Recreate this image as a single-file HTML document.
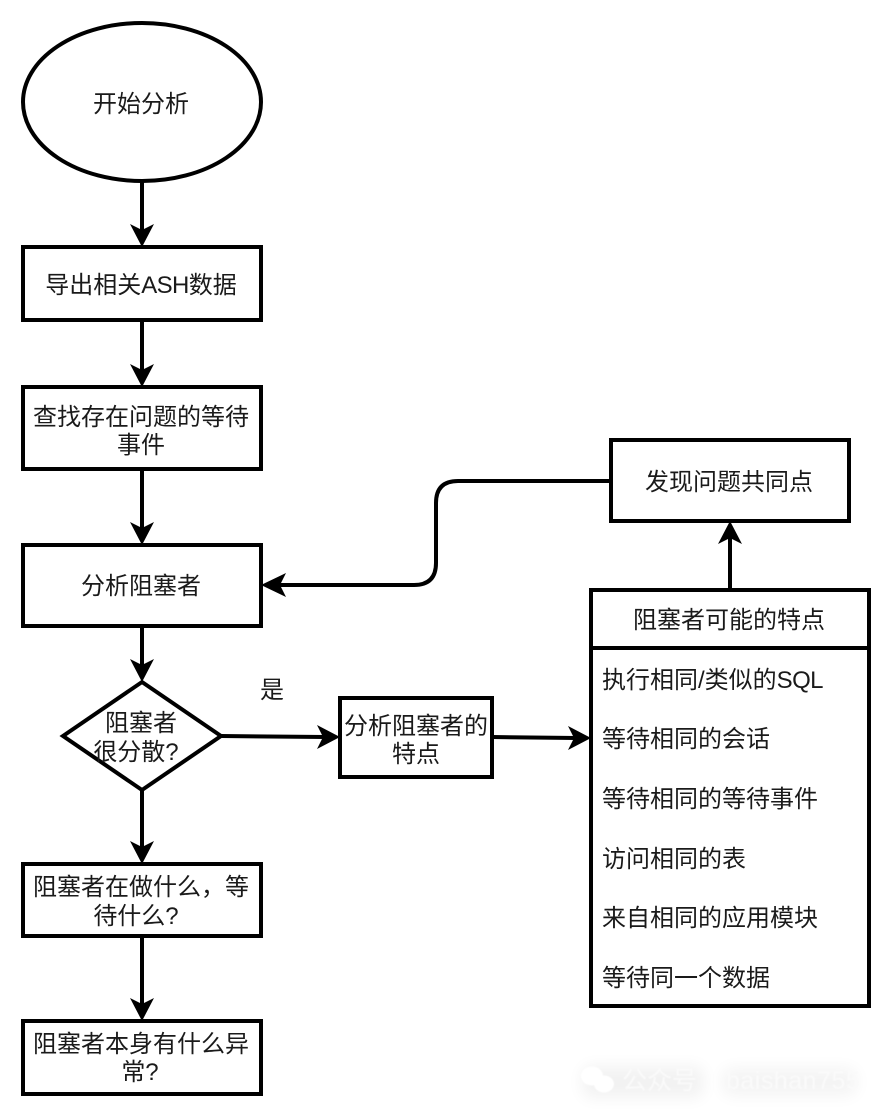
<!DOCTYPE html>
<html>
<head>
<meta charset="utf-8">
<style>
html,body{margin:0;padding:0;background:#fff;width:890px;height:1116px;overflow:hidden}
svg{display:block}
text{font-family:"Liberation Sans","Noto Sans CJK SC",sans-serif;font-size:24px;fill:#1a1a1a;text-anchor:middle}
.l{text-anchor:start}
.s{fill:#fff;stroke:#000;stroke-width:4}
.c{fill:none;stroke:#000;stroke-width:4}
</style>
</head>
<body>
<svg width="890" height="1116" viewBox="0 0 890 1116" xmlns="http://www.w3.org/2000/svg">
<defs>
<filter id="b" x="-30%" y="-60%" width="160%" height="220%"><feGaussianBlur stdDeviation="8"/></filter>
<filter id="b2" x="-10%" y="-10%" width="120%" height="120%"><feGaussianBlur stdDeviation="0.6"/></filter>
</defs>

<!-- shapes -->
<ellipse class="s" cx="142" cy="102" rx="119" ry="79"/>
<rect class="s" x="23" y="247" width="238" height="73"/>
<rect class="s" x="23" y="387" width="238" height="82"/>
<rect class="s" x="23" y="545" width="238" height="81"/>
<polygon class="s" points="142,682 221,736 142,790 63,736"/>
<rect class="s" x="23" y="864" width="238" height="72"/>
<rect class="s" x="23" y="1021" width="238" height="73"/>
<rect class="s" x="340" y="698" width="152" height="79"/>
<rect class="s" x="611" y="440" width="238" height="81"/>
<rect class="s" x="591" y="590" width="278" height="416"/>
<line class="c" x1="591" y1="648" x2="869" y2="648"/>

<!-- connectors -->
<line class="c" x1="142" y1="181" x2="142" y2="232"/>
<polygon points="142,247 130,224 142,230 154,224"/>
<line class="c" x1="142" y1="320" x2="142" y2="372"/>
<polygon points="142,387 130,364 142,370 154,364"/>
<line class="c" x1="142" y1="469" x2="142" y2="530"/>
<polygon points="142,545 130,522 142,528 154,522"/>
<line class="c" x1="142" y1="626" x2="142" y2="667"/>
<polygon points="142,682 130,659 142,665 154,659"/>
<line class="c" x1="142" y1="790" x2="142" y2="849"/>
<polygon points="142,864 130,841 142,847 154,841"/>
<line class="c" x1="142" y1="936" x2="142" y2="1006"/>
<polygon points="142,1021 130,998 142,1004 154,998"/>
<line class="c" x1="221" y1="736" x2="325" y2="737"/>
<polygon points="340,737 317,725 323,737 317,749"/>
<line class="c" x1="492" y1="737" x2="576" y2="738"/>
<polygon points="591,738 568,726 574,738 568,750"/>
<line class="c" x1="730" y1="590" x2="730" y2="536"/>
<polygon points="730,521 718,544 730,538 742,544"/>
<path class="c" d="M611 481 H458 Q436 481 436 503 V563 Q436 585 414 585 H276"/>
<polygon points="261,585 286,573 280,585 286,597"/>

<!-- labels -->
<text x="141" y="112">开始分析</text>
<text x="141" y="293">导出相关<tspan letter-spacing="-0.6">ASH</tspan>数据</text>
<text x="141" y="425">查找存在问题的等待</text>
<text x="141" y="453">事件</text>
<text x="141" y="594">分析阻塞者</text>
<text x="272" y="698">是</text>
<text x="141" y="731">阻塞者</text>
<text x="136" y="760">很分散?</text>
<text x="416" y="734">分析阻塞者的</text>
<text x="416" y="762">特点</text>
<text x="141" y="895">阻塞者在做什么，等</text>
<text x="136" y="924">待什么?</text>
<text x="141" y="1052">阻塞者本身有什么异</text>
<text x="140" y="1080">常?</text>
<text x="729" y="490">发现问题共同点</text>
<text x="729" y="628">阻塞者可能的特点</text>
<text class="l" x="602" y="688">执行相同/类似的<tspan letter-spacing="-0.6">SQL</tspan></text>
<text class="l" x="602" y="747">等待相同的会话</text>
<text class="l" x="602" y="807">等待相同的等待事件</text>
<text class="l" x="602" y="867">访问相同的表</text>
<text class="l" x="602" y="926">来自相同的应用模块</text>
<text class="l" x="602" y="986">等待同一个数据</text>

<!-- watermark -->
<rect x="582" y="1066" width="122" height="32" rx="10" fill="#000" opacity=".05" filter="url(#b)"/>
<rect x="722" y="1068" width="135" height="28" rx="10" fill="#000" opacity=".045" filter="url(#b)"/>
<g filter="url(#b2)">
<ellipse cx="592" cy="1076" rx="11" ry="9.5" fill="#fff"/>
<ellipse cx="604" cy="1084" rx="10" ry="8.5" fill="#fff"/>
<text class="l" x="622" y="1089" style="font-size:25px;fill:#fafafa">公众号</text>
<text class="l" x="726" y="1089" style="font-size:25px;fill:#fafafa;letter-spacing:.5px">baishan755</text>
</g>
</svg>
</body>
</html>
